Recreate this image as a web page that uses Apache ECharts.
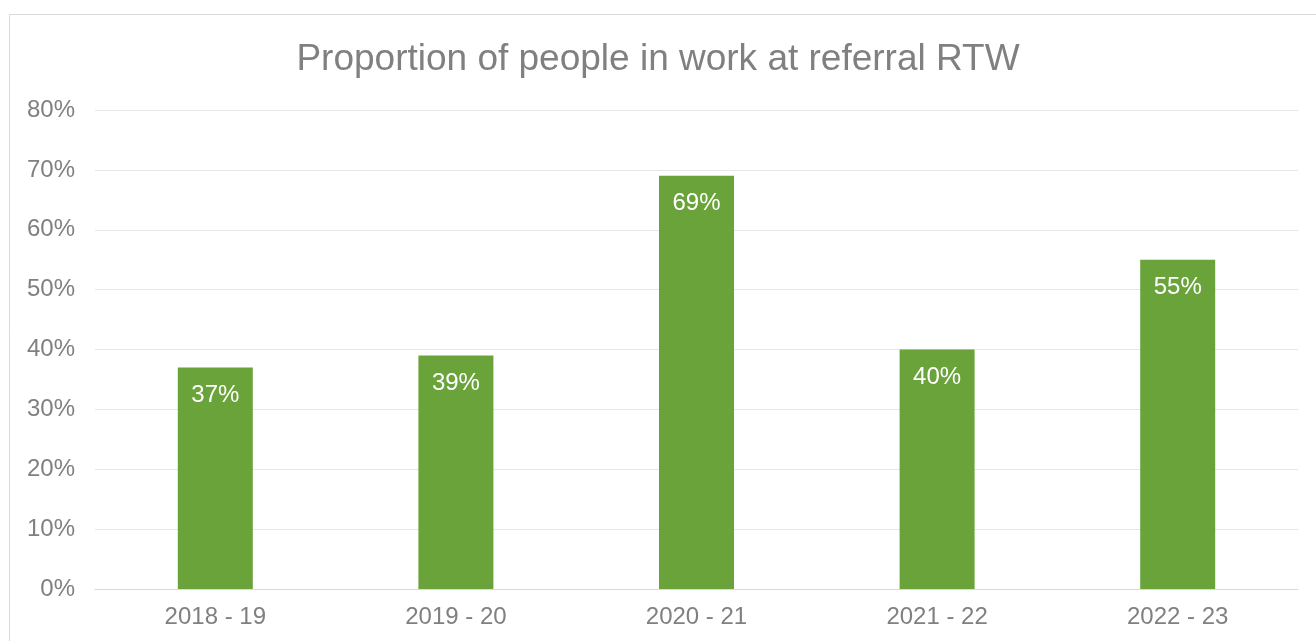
<!DOCTYPE html>
<html>
<head>
<meta charset="utf-8">
<script src="https://cdn.jsdelivr.net/npm/echarts@6/dist/echarts.min.js"></script>
<style>
  html, body { margin: 0; padding: 0; background: #fff; }
  #chart { width: 1316px; height: 641px; }
</style>
</head>
<body>
<div id="chart"></div>
<script>
// Financial years and share of people in work at referral
const years = ['2018 - 19', '2019 - 20', '2020 - 21', '2021 - 22', '2022 - 23'];
const inWorkPct = [37, 39, 69, 40, 55];
const chartTitle = 'Proportion of people in work at referral RTW';

const chart = echarts.init(document.getElementById('chart'), null, { renderer: 'canvas' });
const font = 'Liberation Sans, Arial, sans-serif';

chart.setOption({
  animation: false,
  graphic: [{
    type: 'rect',
    shape: { x: 9.5, y: 14.5, width: 1400, height: 700 },
    style: { fill: 'none', stroke: '#d9d9d9', lineWidth: 1 },
    silent: true
  }],
  title: {
    text: chartTitle,
    left: 'center',
    top: 36,
    textStyle: { fontFamily: font, fontSize: 37, fontWeight: 'normal', color: '#808080' }
  },
  grid: { left: 95, right: 18, top: 110, bottom: 52, containLabel: false },
  xAxis: {
    type: 'category',
    data: years,
    axisLine: { show: true, lineStyle: { color: '#d9d9d9', width: 1 } },
    axisTick: { show: false },
    axisLabel: { fontFamily: font, fontSize: 24, color: '#808080', margin: 16 }
  },
  yAxis: {
    type: 'value',
    min: 0,
    max: 80,
    interval: 10,
    axisLine: { show: false },
    axisTick: { show: false },
    splitLine: { lineStyle: { color: '#e6e6e6', width: 1 } },
    axisLabel: { fontFamily: font, fontSize: 24, color: '#808080', margin: 20, formatter: '{value}%' }
  },
  series: [{
    type: 'bar',
    data: inWorkPct,
    barWidth: 75,
    itemStyle: { color: '#6aa339' },
    label: {
      show: true,
      position: 'insideTop',
      distance: 16,
      formatter: p => p.value + '%',
      fontFamily: font,
      fontSize: 24,
      color: '#ffffff'
    }
  }]
});
</script>
</body>
</html>
